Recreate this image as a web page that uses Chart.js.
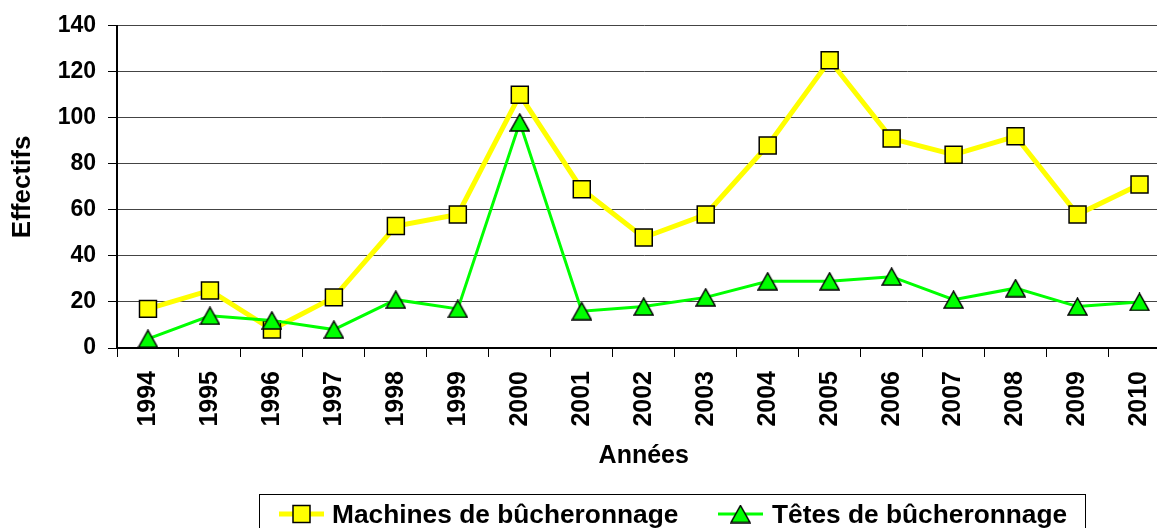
<!DOCTYPE html>
<html>
<head>
<meta charset="utf-8">
<script src="https://cdn.jsdelivr.net/npm/chart.js@4"></script>
<style>
  html, body { margin: 0; padding: 0; background: #fff; overflow: hidden; }
  #wrap { width: 1184px; height: 528px; }
</style>
</head>
<body>
<div id="wrap"><canvas id="chart" width="1184" height="528"></canvas></div>
<script>
// données
const years = ['1994', '1995', '1996', '1997', '1998', '1999', '2000', '2001', '2002',
               '2003', '2004', '2005', '2006', '2007', '2008', '2009', '2010'];
const machines = [17, 25, 8, 22, 53, 58, 110, 69, 48, 58, 88, 125, 91, 84, 92, 58, 71];
const tetes = [4, 14, 12, 8, 21, 17, 98, 16, 18, 22, 29, 29, 31, 21, 26, 18, 20];
const yTicks = [0, 20, 40, 60, 80, 100, 120, 140];

const FONT = '"Liberation Sans", Arial, sans-serif';

// triangle centré sur sa boîte (comme Excel)
function makeTriangle(w, h, fill) {
    const c = document.createElement('canvas');
    c.width = w + 2;
    c.height = h + 2;
    const g = c.getContext('2d');
    g.beginPath();
    g.moveTo(c.width / 2, 1);
    g.lineTo(c.width - 1, c.height - 1);
    g.lineTo(1, c.height - 1);
    g.closePath();
    g.fillStyle = fill;
    g.fill();
    g.lineWidth = 1.5;
    g.strokeStyle = '#000';
    g.stroke();
    return c;
}
const triangleImg = makeTriangle(19, 17, '#00FF00');

// légende encadrée en bas
const legendPlugin = {
    id: 'boxLegend',
    afterDraw(chart) {
        const ctx = chart.ctx;
        ctx.save();
        ctx.strokeStyle = '#000';
        ctx.lineWidth = 1;
        ctx.strokeRect(259.5, 494.5, 826, 60);

        ctx.font = 'bold 26.3px ' + FONT;
        ctx.fillStyle = '#000';
        ctx.textBaseline = 'alphabetic';
        const cy = 514;

        // Machines
        ctx.strokeStyle = '#FFFF00';
        ctx.lineWidth = 5;
        ctx.beginPath(); ctx.moveTo(279, cy); ctx.lineTo(324, cy); ctx.stroke();
        ctx.fillStyle = '#FFFF00';
        ctx.fillRect(293, cy - 8.5, 17, 17);
        ctx.strokeStyle = '#000';
        ctx.lineWidth = 1.5;
        ctx.strokeRect(293, cy - 8.5, 17, 17);
        ctx.fillStyle = '#000';
        ctx.fillText(chart.data.datasets[0].label, 332, 523);

        // Têtes
        ctx.strokeStyle = '#00FF00';
        ctx.lineWidth = 3;
        ctx.beginPath(); ctx.moveTo(718, cy); ctx.lineTo(763, cy); ctx.stroke();
        ctx.drawImage(triangleImg, 740.5 - triangleImg.width / 2, cy - triangleImg.height / 2);
        ctx.fillStyle = '#000';
        ctx.fillText(chart.data.datasets[1].label, 772, 523);
        ctx.restore();
    }
};

new Chart(document.getElementById('chart'), {
    type: 'line',
    data: {
        labels: years,
        datasets: [{
            label: 'Machines de bûcheronnage',
            data: machines,
            order: 1,
            borderColor: '#FFFF00',
            borderWidth: 5,
            tension: 0,
            pointStyle: 'rect',
            pointRadius: 12,
            pointHoverRadius: 12,
            pointBackgroundColor: '#FFFF00',
            pointBorderColor: '#000',
            pointBorderWidth: 1.5
        }, {
            label: 'Têtes de bûcheronnage',
            data: tetes,
            order: 0,
            borderColor: '#00FF00',
            borderWidth: 3,
            tension: 0,
            pointStyle: triangleImg,
            pointRadius: 10,
            pointHoverRadius: 10
        }]
    },
    options: {
        responsive: false,
        animation: false,
        events: [],
        layout: { padding: { top: 25, right: 0, bottom: 0, left: 0 } },
        plugins: {
            legend: { display: false },
            tooltip: { enabled: false }
        },
        scales: {
            x: {
                offset: true,
                afterFit(scale) { scale.height = 180; },
                border: { color: '#000', width: 2 },
                grid: {
                    offset: true,
                    drawOnChartArea: false,
                    drawTicks: true,
                    tickLength: 9,
                    color: '#000',
                    lineWidth: 1
                },
                ticks: {
                    minRotation: 90,
                    maxRotation: 90,
                    autoSkip: false,
                    padding: 14,
                    color: '#000',
                    font: { family: FONT, size: 25, weight: 'bold' }
                },
                title: {
                    display: true,
                    text: 'Années',
                    color: '#000',
                    font: { family: FONT, size: 25, weight: 'bold', lineHeight: 1.2 },
                    padding: { top: 57, bottom: 57 }
                }
            },
            y: {
                min: 0,
                max: 140,
                afterFit(scale) { scale.width = 117; },
                afterBuildTicks(scale) { scale.ticks = yTicks.map(v => ({ value: v })); },
                border: { color: '#000', width: 2 },
                grid: {
                    color: '#444',
                    lineWidth: 1,
                    tickLength: 9,
                    tickColor: '#000'
                },
                ticks: {
                    padding: 12,
                    color: '#000',
                    font: { family: FONT, size: 23, weight: 'bold' }
                },
                title: {
                    display: true,
                    text: 'Effectifs',
                    color: '#000',
                    font: { family: FONT, size: 26, weight: 'bold', lineHeight: 1.2 },
                    padding: { top: 7, bottom: 7 }
                }
            }
        }
    },
    plugins: [legendPlugin]
});
</script>
</body>
</html>
